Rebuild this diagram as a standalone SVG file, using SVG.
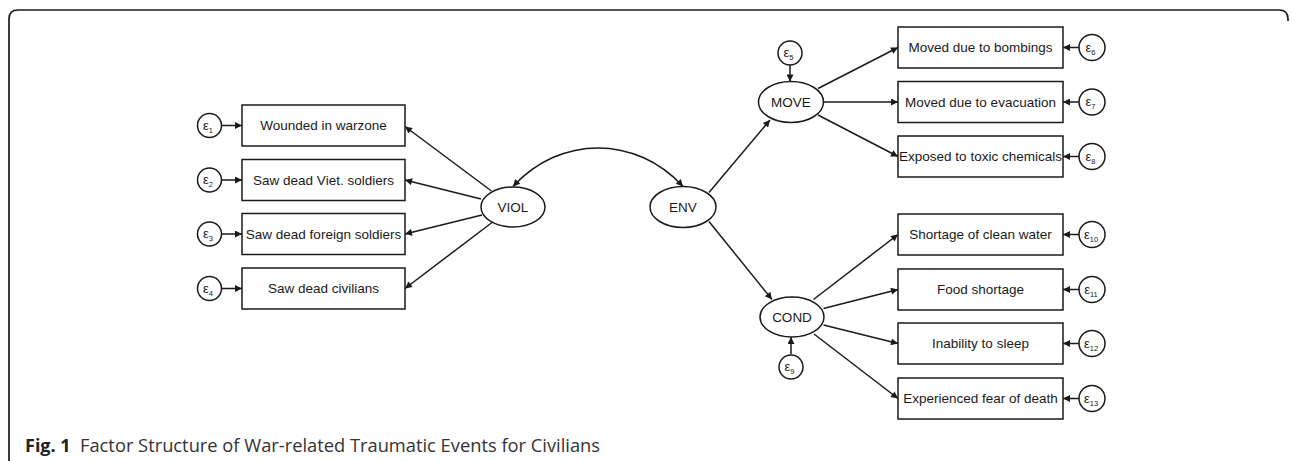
<svg xmlns="http://www.w3.org/2000/svg" width="1292" height="461" viewBox="0 0 1292 461">
<style>
.box{fill:#fff;stroke:#1a1a1a;stroke-width:1.5}
.lat{fill:#fff;stroke:#1a1a1a;stroke-width:1.5}
.err{fill:#fff;stroke:#1a1a1a;stroke-width:1.5}
.lbl{font-family:"Liberation Sans",Arial,sans-serif;font-size:13.5px;fill:#1a1a1a;text-anchor:middle;dominant-baseline:central}
.eps{font-family:"Liberation Sans",Arial,sans-serif;font-size:13px;fill:#1a1a1a;text-anchor:middle}
.sub{font-size:7.5px}
.edge{fill:none;stroke:#1a1a1a;stroke-width:1.5;marker-end:url(#ah)}
.frame{fill:none;stroke:#1a1a1a;stroke-width:1.7}
.cap{font-family:"Open Sans","DejaVu Sans",sans-serif;font-size:18px;fill:#333}
</style>
<defs>
<marker id="ah" viewBox="0 0 10 10" refX="10" refY="5" markerWidth="10" markerHeight="7" markerUnits="userSpaceOnUse" orient="auto">
<path d="M0,0 L10,5 L0,10 z" fill="#1a1a1a"/>
</marker>
<marker id="ahs" viewBox="0 0 10 10" refX="0" refY="5" markerWidth="10" markerHeight="7" markerUnits="userSpaceOnUse" orient="auto">
<path d="M10,0 L0,5 L10,10 z" fill="#1a1a1a"/>
</marker>
</defs>
<rect width="1292" height="461" fill="#fff"/>
<path class="frame" d="M9,461 L9,19 Q9,10 18,10 L1279,10 Q1288,10 1288,19 L1288,21"/>

<g id="connectors">
<path class="edge" d="M221,125.5 L242,125.5"/>
<path class="edge" d="M221,180 L242,180"/>
<path class="edge" d="M221,234 L242,234"/>
<path class="edge" d="M221,288.5 L242,288.5"/>
<path class="edge" d="M491.5,191 L405,126.5"/>
<path class="edge" d="M481,199 L405,180"/>
<path class="edge" d="M482,215 L405,234"/>
<path class="edge" d="M492,222.5 L405,288.5"/>
<path class="edge" style="marker-start:url(#ahs)" d="M513,186.5 C560,135 636,135 683,186.5"/>
<path class="edge" d="M709,192.5 L770,120"/>
<path class="edge" d="M709,221.5 L772,299.5"/>
<path class="edge" d="M790,65 L790,81.5"/>
<path class="edge" d="M818,88.5 L898,47.5"/>
<path class="edge" d="M823.5,102 L898,102"/>
<path class="edge" d="M818,115 L898,156.5"/>
<path class="edge" d="M1079,47.5 L1063,47.5"/>
<path class="edge" d="M1079,102 L1063,102"/>
<path class="edge" d="M1079,156.5 L1063,156.5"/>
<path class="edge" d="M791,354 L791,337"/>
<path class="edge" d="M813.5,299.5 L898,234.5"/>
<path class="edge" d="M823.5,308.5 L898,289.5"/>
<path class="edge" d="M823.5,325 L898,343.5"/>
<path class="edge" d="M814,334 L898,398.5"/>
<path class="edge" d="M1079,234.5 L1063,234.5"/>
<path class="edge" d="M1079,289.5 L1063,289.5"/>
<path class="edge" d="M1079,343.5 L1063,343.5"/>
<path class="edge" d="M1079,398.5 L1063,398.5"/>
</g>

<g id="VIOL"><ellipse class="lat" cx="513" cy="207" rx="32" ry="20"/><text class="lbl" x="513" y="207">VIOL</text></g>
<g id="ENV"><ellipse class="lat" cx="683" cy="207" rx="33" ry="20.5"/><text class="lbl" x="683" y="207">ENV</text></g>
<g id="MOVE"><ellipse class="lat" cx="791" cy="102" rx="32.5" ry="20.5"/><text class="lbl" x="791" y="102">MOVE</text></g>
<g id="COND"><ellipse class="lat" cx="792" cy="317" rx="32" ry="20"/><text class="lbl" x="792" y="317">COND</text></g>

<g id="box1"><rect class="box" x="242" y="105" width="163" height="41"/><text class="lbl" x="323.5" y="125.5">Wounded in warzone</text></g>
<g id="box2"><rect class="box" x="242" y="159.5" width="163" height="41"/><text class="lbl" x="323.5" y="180">Saw dead Viet. soldiers</text></g>
<g id="box3"><rect class="box" x="242" y="213.5" width="163" height="41"/><text class="lbl" x="323.5" y="234">Saw dead foreign soldiers</text></g>
<g id="box4"><rect class="box" x="242" y="268" width="163" height="41"/><text class="lbl" x="323.5" y="288.5">Saw dead civilians</text></g>

<g id="box6"><rect class="box" x="898" y="27" width="165" height="41"/><text class="lbl" x="980.5" y="47.5">Moved due to bombings</text></g>
<g id="box7"><rect class="box" x="898" y="81.5" width="165" height="41"/><text class="lbl" x="980.5" y="102">Moved due to evacuation</text></g>
<g id="box8"><rect class="box" x="898" y="136" width="165" height="41"/><text class="lbl" x="980.5" y="156.5">Exposed to toxic chemicals</text></g>
<g id="box10"><rect class="box" x="898" y="214" width="165" height="41"/><text class="lbl" x="980.5" y="234.5">Shortage of clean water</text></g>
<g id="box11"><rect class="box" x="898" y="269" width="165" height="41"/><text class="lbl" x="980.5" y="289.5">Food shortage</text></g>
<g id="box12"><rect class="box" x="898" y="323" width="165" height="41"/><text class="lbl" x="980.5" y="343.5">Inability to sleep</text></g>
<g id="box13"><rect class="box" x="898" y="378" width="165" height="41"/><text class="lbl" x="980.5" y="398.5">Experienced fear of death</text></g>

<g id="e1"><circle class="err" cx="209.5" cy="125.5" r="12"/><text class="eps" x="208" y="129.5">ε<tspan class="sub" dy="3">1</tspan></text></g>
<g id="e2"><circle class="err" cx="209.5" cy="180" r="12"/><text class="eps" x="208" y="184">ε<tspan class="sub" dy="3">2</tspan></text></g>
<g id="e3"><circle class="err" cx="209.5" cy="234" r="12"/><text class="eps" x="208" y="238">ε<tspan class="sub" dy="3">3</tspan></text></g>
<g id="e4"><circle class="err" cx="209.5" cy="288.5" r="12"/><text class="eps" x="208" y="292.5">ε<tspan class="sub" dy="3">4</tspan></text></g>
<g id="e5"><circle class="err" cx="790" cy="53" r="12"/><text class="eps" x="788.5" y="57">ε<tspan class="sub" dy="3">5</tspan></text></g>
<g id="e6"><circle class="err" cx="1092" cy="47.5" r="13"/><text class="eps" x="1090.5" y="51.5">ε<tspan class="sub" dy="3">6</tspan></text></g>
<g id="e7"><circle class="err" cx="1092" cy="102" r="13"/><text class="eps" x="1090.5" y="106">ε<tspan class="sub" dy="3">7</tspan></text></g>
<g id="e8"><circle class="err" cx="1092" cy="156.5" r="13"/><text class="eps" x="1090.5" y="160.5">ε<tspan class="sub" dy="3">8</tspan></text></g>
<g id="e9"><circle class="err" cx="791" cy="367" r="12"/><text class="eps" x="789.5" y="371">ε<tspan class="sub" dy="3">9</tspan></text></g>
<g id="e10"><circle class="err" cx="1092" cy="234.5" r="13"/><text class="eps" x="1091" y="238.5">ε<tspan class="sub" dy="3">10</tspan></text></g>
<g id="e11"><circle class="err" cx="1092" cy="289.5" r="13"/><text class="eps" x="1091" y="293.5">ε<tspan class="sub" dy="3">11</tspan></text></g>
<g id="e12"><circle class="err" cx="1092" cy="343.5" r="13"/><text class="eps" x="1091" y="347.5">ε<tspan class="sub" dy="3">12</tspan></text></g>
<g id="e13"><circle class="err" cx="1092" cy="398.5" r="13"/><text class="eps" x="1091" y="402.5">ε<tspan class="sub" dy="3">13</tspan></text></g>

<g id="caption">
<text class="cap" x="25" y="452" style="font-weight:bold;fill:#222">Fig. 1</text>
<text class="cap" x="80" y="452" textLength="520" lengthAdjust="spacingAndGlyphs">Factor Structure of War-related Traumatic Events for Civilians</text>
</g>
</svg>
